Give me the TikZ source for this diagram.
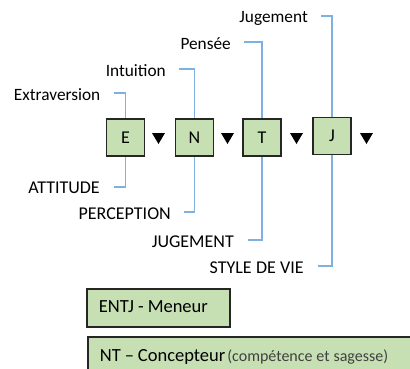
\documentclass[tikz,border=0pt]{standalone}
\usepackage{fontspec}
\setmainfont{Carlito}
\newcommand{\tightsp}{\spaceskip=0.24em plus 0.05em\relax}
\begin{document}
\begin{tikzpicture}[x=1pt,y=-1pt,
  letterbox/.style={draw=black!85,line width=1.6pt,fill=boxgreen,minimum width=38pt,minimum height=37pt,inner sep=0pt,font=\fontsize{18}{21}\selectfont},
  lbl/.style={anchor=east,inner sep=0pt,font=\fontsize{17.3}{21}\selectfont\tightsp},
  caplbl/.style={lbl,font=\fontsize{18}{21}\selectfont\tightsp},
  conn/.style={draw=linkblue,line width=1.3pt},
  tri/.style={fill=black},
  typebox/.style={draw=black!85,line width=1.6pt,fill=boxgreen,anchor=north west,inner xsep=12pt,inner ysep=0pt,font=\fontsize{18.5}{22}\selectfont\tightsp,text height=13pt,text depth=4pt}]
\definecolor{boxgreen}{HTML}{C6E0B4}
\definecolor{linkblue}{HTML}{7EB0E2}
\useasboundingbox (0,0) rectangle (410,368);
% letter boxes
\node[letterbox] (E) at (125.5,137.5) {E};
\node[letterbox] (N) at (194.5,137.5) {N};
\node[letterbox] (T) at (262,137.5) {T};
\node[letterbox] (J) at (332,136) {J};
% triangles
\foreach \x in {152,221,290,360}{
  \fill[tri] (\x,133) -- (\x+13,133) -- (\x+6.5,144) -- cycle;
}
% top labels
\node[lbl] (ext) at (100.5,95) {Extraversion};
\node[lbl] (int) at (166,71) {Intuition};
\node[lbl] (pen) at (231,44) {Pensée};
\node[lbl] (jug) at (308,18) {Jugement};
\coordinate (cE1) at (114,93);
\coordinate (cN1) at (179,69);
\coordinate (cT1) at (244,42);
\coordinate (cJ1) at (321,16);
\draw[conn] (E.north) |- (cE1);
\draw[conn] (N.north) |- (cN1);
\draw[conn] (T.north) |- (cT1);
\draw[conn] (J.north) |- (cJ1);
% bottom labels
\node[caplbl] (att) at (100,188) {ATTITUDE};
\node[caplbl] (per) at (171,214) {PERCEPTION};
\node[caplbl] (jud) at (234,242) {JUGEMENT};
\node[caplbl] (sty) at (304,268) {STYLE DE VIE};
\coordinate (cE2) at (114,187);
\coordinate (cN2) at (184,212);
\coordinate (cT2) at (248,240);
\coordinate (cJ2) at (318,266);
\draw[conn] (E.south) |- (cE2);
\draw[conn] (N.south) |- (cN2);
\draw[conn] (T.south) |- (cT2);
\draw[conn] (J.south) |- (cJ2);
% type boxes
\node[typebox,minimum width=143pt,minimum height=38pt,text width=119pt,align=left] (entj) at (86,288) {ENTJ\kern4pt-\kern4pt\relax Meneur};
\node[typebox,minimum width=340pt,minimum height=40pt,text width=316pt,align=left] (nt) at (87,336) {NT\kern4pt–\kern4pt\relax Concepteur\hspace{2pt}{\fontsize{16}{18}\selectfont\tightsp\color{black!75}(compétence et sagesse)}};
\end{tikzpicture}
\end{document}
